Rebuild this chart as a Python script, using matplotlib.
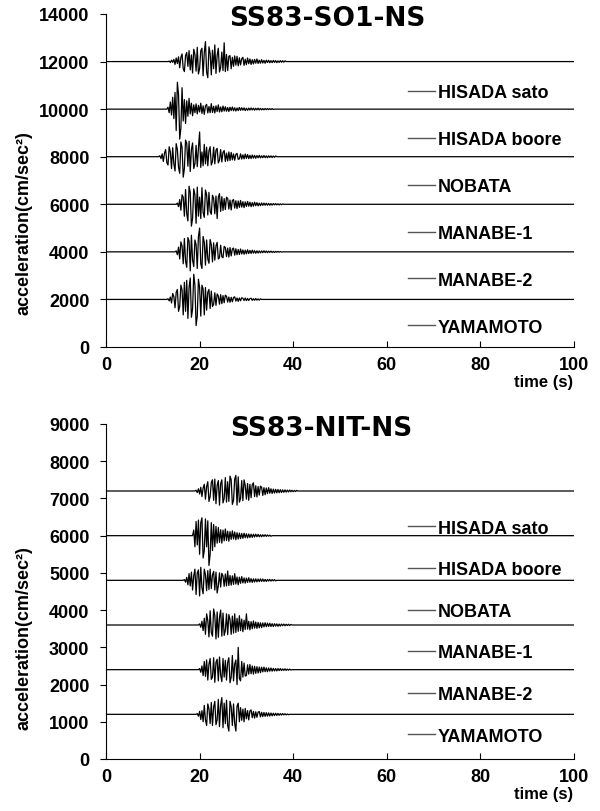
import numpy as np
import matplotlib
matplotlib.use("Agg")
import matplotlib.pyplot as plt

#%% data: acceleration (cm/s^2), one value every dt seconds after each trace's onset
dt = 0.25
t_end = 100.0

labels = ["HISADA sato", "HISADA boore", "NOBATA", "MANABE-1", "MANABE-2", "YAMAMOTO"]

# SS83-SO1-NS
so1_offsets = [12000, 10000, 8000, 6000, 4000, 2000]
so1_onsets = [13.25, 13.0, 11.25, 15.0, 14.75, 13.0]
so1_hisada_sato = [20, -40, 60, -30, 90, -120, 150, -80, 200, -260, 180, 320, -300, -420, 250, 380, -200, 460, -350, 280,
                   -480, 520, 300, -400, 600, -520, -300, 450, 560, -600, 380, 840, -450, -680, 620, 350, -560, 480, -300, 700,
                   -500, 260, 560, -440, -250, 400, -380, 790, -420, 300, -380, 220, 250, -300, 180, -200, 240, -150, 220, -180,
                   160, -140, 120, 180, -160, 100, -130, 150, -90, 110, -120, 80, -100, 90, -70, 110, -80, 60, -70, 80,
                   -60, 50, -70, 60, -40, 55, -50, 40, -45, 50, -35, 40, -45, 30, -35, 40, -30, 35, -25, 30, 0]
so1_hisada_boore = [80, -150, 300, -250, 500, -400, 700, -900, 1130, 600, -1260, -800, 900, -500, 400, -600, 350, -300, 450, -200,
                    250, -280, 180, -150, 220, -200, 160, -120, 250, -180, 140, -220, 130, 200, -160, 110, -150, 230, -140, 120,
                    -160, 140, -100, 180, -120, 90, -110, 130, -80, 100, -90, 70, -100, 80, -60, 90, -70, 60, -80, 50,
                    -60, 70, -50, 60, -45, 55, -60, 40, -50, 45, -40, 50, -35, 40, -45, 35, -30, 40, -35, 30,
                    -30, 25, -30, 25, -20, 25, -20, 20, -15, 20, -15, 0]
so1_nobata = [40, -80, 120, -200, 150, 300, -250, -350, 420, 200, -500, 380, -300, -600, 550, 300, -450, -700, 620, 400,
              -860, -500, 700, 560, -400, 650, -620, 300, 580, -500, -300, 480, -420, 350, 1040, -450, 200, -380, 520, -300,
              400, -380, 250, 420, -350, -200, 400, -300, 280, 350, -260, -150, 300, -220, 180, 260, -200, 150, -180, 200,
              -160, 180, -130, 120, -150, 100, 140, -110, -90, 120, -100, 80, -90, 110, -70, 90, -80, 60, -75, 70,
              -60, 55, -65, 50, -45, 60, -50, 40, -45, 50, -40, 35, -45, 40, -30, 35, -35, 30, -25, 30, 0]
so1_manabe1 = [50, -100, 200, -250, 400, 300, -500, 620, -400, -700, 760, 500, -920, -600, 650, 400, -800, 720, -500, 300,
               -600, 700, -350, -550, 600, 400, -450, 500, -300, -420, 380, 250, -400, 350, -600, 300, 450, -300, 320, -260,
               240, -220, 300, 250, -200, 180, -240, 160, 200, -160, 150, -180, 140, -130, 160, -120, 110, -140, 100, -90,
               120, -80, 90, -100, 70, -80, 90, -60, 70, -65, 50, -60, 55, -45, 50, -40, 45, -40, 35, -40,
               30, -35, 30, -25, 30, -25, 20, -25, 20, -20, 15, 0]
so1_manabe2 = [40, -120, 200, -300, 420, 250, -500, 560, -400, -650, 600, 450, -800, 700, -350, -620, 500, 300, -700, 650,
               1000, -500, -700, 650, 400, -560, 500, -300, -480, 520, 300, -420, 380, -350, 250, 400, -300, -250, 280, -200,
               -250, 230, 180, -200, 160, -220, 180, -170, 120, 160, -140, 130, -120, 100, -110, 120, -90, 80, -100, 70,
               -80, 90, -70, 60, -65, 70, -55, 50, -60, 45, -50, 40, -45, 40, -35, 45, -30, 35, -35, 30,
               -25, 30, -25, 20, -25, 20, -15, 20, -15, 15, -10, 0]
so1_yamamoto = [30, -60, 100, -150, 250, 120, -350, 300, 420, -500, -300, 600, 400, -650, 720, -500, 800, -800, 500, 900,
                -750, -400, 1060, 600, -1100, -700, 850, 500, -700, 600, 450, -650, 500, -450, 300, 420, -380, 350, -300, -200,
                280, -250, 230, 150, -200, 200, -180, 160, -140, 180, 130, -110, 100, -120, 90, -100, 80, 110, -70, 60,
                -80, 60, -55, 70, 50, -45, 60, -50, 40, -45, 35, 50, -40, 30, -35, 40, -30, 25, -30, 25, 0]

# SS83-NIT-NS
nit_offsets = [7200, 6000, 4800, 3600, 2400, 1200]
nit_onsets = [19.0, 18.5, 16.5, 19.75, 19.75, 19.25]
nit_hisada_sato = [20, -40, 60, -80, 100, -150, 80, 180, -220, 120, 250, -280, -150, 230, 300, -250, 320, -340, 150, 280,
                   -380, 200, 300, -320, -200, 360, -300, 250, -280, 400, 300, -360, -250, 320, 420, -380, 380, -300, -200, 280,
                   -260, 300, 150, -220, 200, -250, 180, -180, 170, 220, -150, 140, -160, 120, -110, 130, 100, -120, 90, -100,
                   80, -70, 90, -60, 60, -65, 50, -55, 45, -50, 40, -45, 35, -40, 30, -35, 30, -30, 25, -25,
                   25, -20, 20, -20, 15, -15, 15, 0]
nit_hisada_boore = [150, -300, 380, -250, 420, -500, 350, 480, -600, -400, 450, -300, 400, -800, -500, 350, -400, 300, -300, 250,
                    -200, 220, -180, 160, -200, 150, -140, 180, -130, 120, -150, 110, -100, 130, -90, 100, -110, 80, -90, 70,
                    -80, 60, -70, 65, -55, 50, -60, 45, -50, 40, -45, 40, -35, 40, -30, 35, -30, 25, -30, 25,
                    -20, 25, -20, 20, -15, 15, -15, 0]
nit_nobata = [20, -50, 80, -120, 180, -150, 220, -260, 120, 300, -380, 200, 280, -420, 350, -200, -360, 300, 150, -280,
              260, -250, 300, -220, 150, 240, -260, 220, -340, -150, 200, -180, 190, 120, -160, 170, -150, 250, -140, 130,
              -130, 120, -110, 180, -100, 90, -120, 85, -80, 100, -70, 65, -75, 60, -55, 70, -50, 45, -55, 40,
              -45, 40, -40, 35, -35, 40, -30, 35, -30, 25, -30, 25, -20, 25, -20, 20, -15, 20, -15, 0]
nit_manabe1 = [30, -60, 100, -150, 180, -250, 300, 120, -320, 380, -200, -300, 430, 250, -375, 350, -330, 200, 400, -300,
               320, -280, -150, 300, -260, 280, 150, -250, 240, -220, 300, -200, 180, -170, 250, -150, 160, -180, 130, -120,
               300, -110, 100, -130, 90, -100, 110, -85, 80, -90, 70, -75, 60, -70, 55, -50, 60, -45, 50, -40,
               45, -40, 35, -40, 35, -30, 30, -35, 25, -30, 25, -20, 25, -20, 20, -15, 20, -15, 15, 0]
nit_manabe2 = [30, -70, 100, -160, 220, -180, 260, -280, 150, 300, -260, -200, 320, -340, 200, 280, -300, 340, -150, -320,
               300, -200, 250, -280, 200, 320, -350, -200, 380, -300, 150, 260, -400, 600, -240, -300, 220, -200, 180, -170,
               -160, 130, -120, 140, -110, 100, -120, 90, -100, 80, -90, 70, -80, 65, -60, 70, -55, 50, -55, 45,
               -40, 45, -40, 35, -35, 30, -35, 30, -25, 30, -25, 20, -20, 25, -20, 15, -15, 15, -10, 0]
nit_yamamoto = [20, -50, 80, -140, 100, -200, 240, -150, -300, 280, 150, -250, 320, -300, 200, 350, -280, -150, 400, -330,
                250, 450, -360, 300, -250, 380, -300, -450, 350, 200, -300, 280, -250, -450, 220, 300, -200, 180, -160, 140,
                -200, 160, -120, 100, -150, 90, 120, -90, 80, -100, 70, -80, 60, 75, -70, 55, -60, 50, -55, 45,
                -50, 40, -45, 35, -40, 30, -35, 30, -30, 25, -25, 20, -20, 20, -15, 15, -15, 10, -10, 0]

so1_traces = [so1_hisada_sato, so1_hisada_boore, so1_nobata, so1_manabe1, so1_manabe2, so1_yamamoto]
nit_traces = [nit_hisada_sato, nit_hisada_boore, nit_nobata, nit_manabe1, nit_manabe2, nit_yamamoto]

plt.rcParams['font.family'] = ['Liberation Sans', 'DejaVu Sans']


def draw(ax, traces, onsets, offsets, ymax, ystep, title, title_x, leg_anchor, leg_spacing, ylab_y):
    handles = []
    for amp, start, off in zip(traces, onsets, offsets):
        amp = np.asarray(amp, dtype=float)
        # flat before the onset, values after it, flat again to the end of the record
        t = np.concatenate([[0.0, start], start + dt * np.arange(1, len(amp) + 1), [t_end]])
        y = off + np.concatenate([[0.0, 0.0], amp, [0.0]])
        ax.plot(t, y, color="k", linewidth=0.9)
        h, = ax.plot([], [], color="#555555", linewidth=1.0)
        handles.append(h)

    ax.set_xlim(0, 100)
    ax.set_ylim(0, ymax)
    ax.set_xticks(np.arange(0, 101, 20))
    ax.set_yticks(np.arange(0, ymax + 1, ystep))
    ax.spines["top"].set_visible(False)
    ax.spines["right"].set_visible(False)
    ax.tick_params(axis="x", direction="in", length=4, pad=6.5, labelsize=13, width=0.8)
    ax.tick_params(axis="y", direction="out", length=4, pad=8, labelsize=13, width=0.8)
    for lab in ax.get_xticklabels() + ax.get_yticklabels():
        lab.set_fontweight("bold")

    ax.set_ylabel("acceleration(cm/sec²)", fontsize=13, fontweight="bold")
    ax.yaxis.set_label_coords(-0.156, ylab_y)
    ax.text(0.998, -0.082, "time (s)", transform=ax.transAxes,
            ha="right", va="top", fontsize=12, fontweight="bold")
    ax.text(title_x, 0.988, title, transform=ax.transAxes, ha="center", va="center",
            fontsize=19, fontweight="bold", family="DejaVu Sans")

    ax.legend(handles, labels, loc="upper left", bbox_to_anchor=leg_anchor, frameon=False,
              prop={"size": 13, "weight": "bold"}, handlelength=1.5, handletextpad=0.15,
              labelspacing=leg_spacing, borderaxespad=0, borderpad=0)


fig = plt.figure(figsize=(6, 8.12), dpi=100)
ax1 = fig.add_axes([106 / 600, 1 - 348 / 812, 468 / 600, 333 / 812])
ax2 = fig.add_axes([106 / 600, 1 - 760 / 812, 468 / 600, 335 / 812])

draw(ax1, so1_traces, so1_onsets, so1_offsets, 14000, 2000, "SS83-SO1-NS", 0.472, (0.645, 0.79), 1.66, 0.375)
draw(ax2, nit_traces, nit_onsets, nit_offsets, 9000, 1000, "SS83-NIT-NS", 0.46, (0.645, 0.714), 1.36, 0.364)

fig.savefig("out.png", dpi=100)
